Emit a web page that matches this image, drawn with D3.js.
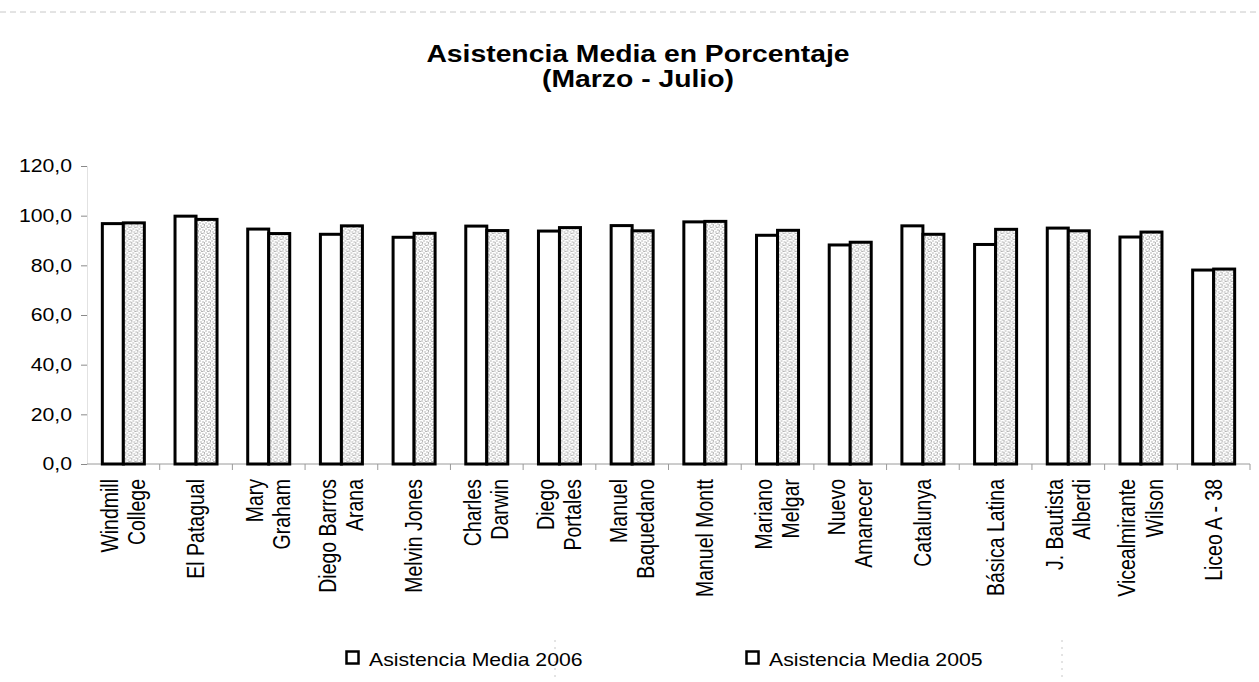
<!DOCTYPE html>
<html>
<head>
<meta charset="utf-8">
<script src="https://cdn.jsdelivr.net/npm/d3@7"></script>
<style>
  html, body { margin: 0; padding: 0; background: #ffffff; }
  svg { display: block; font-family: "Liberation Sans", Arial, sans-serif; }
</style>
</head>
<body>
<svg id="chart" width="1259" height="682"></svg>
<script>
// ---- data ----
const categories = [
  "Windmill\nCollege", "El Patagual", "Mary\nGraham", "Diego Barros\nArana",
  "Melvin Jones", "Charles\nDarwin", "Diego\nPortales", "Manuel\nBaquedano",
  "Manuel Montt", "Mariano\nMelgar", "Nuevo\nAmanecer", "Catalunya",
  "Básica Latina", "J. Bautista\nAlberdi", "Vicealmirante\nWilson", "Liceo A - 38"
];
const values2006 = [96.8, 99.8, 94.6, 92.5, 91.3, 95.8, 93.8, 96.0, 97.5, 92.1, 88.2, 95.9, 88.4, 95.0, 91.4, 78.1];
const values2005 = [97.1, 98.5, 92.8, 95.9, 92.9, 94.0, 95.2, 93.9, 97.7, 94.1, 89.3, 92.5, 94.5, 93.9, 93.4, 78.5];
const seriesNames = ["Asistencia Media 2006", "Asistencia Media 2005"];
const yTickValues = [0, 20, 40, 60, 80, 100, 120];
const titleLines = ["Asistencia Media en Porcentaje", "(Marzo - Julio)"];

(function () {
// ---- layout ----
const SX = 1.18;                 // horizontal text stretch seen in the scan
const svg = d3.select("#chart");
const plotLeft = 87, plotRight = 1250, plotTop = 166, plotBottom = 464;

const x = d3.scaleBand().domain(categories).range([plotLeft, plotRight])
  .paddingInner(0.422).paddingOuter(0.211);
const x1 = d3.scaleBand().domain(seriesNames).range([0, x.bandwidth()]);
const y = d3.scaleLinear().domain([0, 120]).range([plotBottom, plotTop]);
const locale = d3.formatLocale({decimal: ",", thousands: ".", grouping: [3], currency: ["", ""]});
const fmt = locale.format(".1f");

// texture for the 2005 series
const defs = svg.append("defs");
const pat = defs.append("pattern").attr("id", "speckle")
  .attr("patternUnits", "userSpaceOnUse").attr("width", 6).attr("height", 6);
pat.append("rect").attr("width", 6).attr("height", 6).attr("fill", "#ffffff");
const dots = [[0.5,0.5],[3.5,1.5],[1.5,3.5],[4.5,4.5],[2.5,5.0],[5.0,2.5]];
pat.selectAll("rect.d").data(dots).join("rect").attr("class", "d")
  .attr("x", d => d[0]).attr("y", d => d[1]).attr("width", 1).attr("height", 1)
  .attr("fill", "#6a6a6a");

// faint scan frame remnants
svg.append("line").attr("x1", 0).attr("x2", 1259).attr("y1", 12).attr("y2", 12)
  .attr("stroke", "#c8c8c8").attr("stroke-width", 1).attr("stroke-dasharray", "6,4");
[555, 1062].forEach(px => {
  svg.append("line").attr("x1", px).attr("x2", px).attr("y1", 640).attr("y2", 682)
    .attr("stroke", "#c8c8c8").attr("stroke-dasharray", "2,5");
});

// ---- title ----
const tg = svg.append("g").attr("transform", `translate(638,0) scale(${SX},1)`);
tg.selectAll("text").data(titleLines).join("text")
  .attr("x", 0).attr("y", (d, i) => 62 + i * 25)
  .attr("text-anchor", "middle").attr("font-weight", "bold")
  .attr("font-size", 24).attr("fill", "#000").text(d => d);

// ---- y axis ----
const yAxis = svg.append("g").attr("transform", `translate(${plotLeft},0)`)
  .call(d3.axisLeft(y).tickValues(yTickValues).tickSize(6).tickFormat(""));
yAxis.select(".domain").attr("stroke", "#e2e2e2");
yAxis.selectAll(".tick line").attr("stroke", "#8a8a8a");
const ylab = svg.append("g");
ylab.selectAll("g").data(yTickValues).join("g")
  .attr("transform", d => `translate(72,${y(d)}) scale(${SX},1)`)
  .append("text").attr("text-anchor", "end").attr("dy", "0.36em")
  .attr("font-size", 18).attr("fill", "#000").text(d => fmt(d));

// ---- x axis ----
const xAxis = svg.append("g").attr("transform", `translate(0,${plotBottom})`);
xAxis.append("line").attr("x1", plotLeft).attr("x2", plotRight).attr("y1", 0).attr("y2", 0)
  .attr("stroke", "#9a9a9a").attr("stroke-width", 1);
const step = x.step();
xAxis.selectAll("line.tk").data(categories).join("line").attr("class", "tk")
  .attr("x1", d => x(d) - x.paddingInner() * step / 2 + step)
  .attr("x2", d => x(d) - x.paddingInner() * step / 2 + step)
  .attr("y1", 0).attr("y2", 6).attr("stroke", "#9a9a9a");

// ---- bars ----
const rows = categories.map((c, i) => ({cat: c, vals: [values2006[i], values2005[i]]}));
const groups = svg.append("g").selectAll("g").data(rows).join("g")
  .attr("transform", d => `translate(${x(d.cat)},0)`);
groups.selectAll("rect").data(d => d.vals.map((v, k) => ({k, v})))
  .join("rect")
  .attr("x", d => x1(seriesNames[d.k]))
  .attr("y", d => y(d.v))
  .attr("width", x1.bandwidth())
  .attr("height", d => y(0) - y(d.v))
  .attr("fill", d => d.k === 0 ? "#ffffff" : "url(#speckle)")
  .attr("stroke", "#000").attr("stroke-width", 3);

// ---- x labels ----
const lh = 23;
const xl = svg.append("g").selectAll("g").data(categories).join("g")
  .attr("transform", d => `translate(${x(d) + x.bandwidth() / 2},479) scale(${SX},1) rotate(-90)`);
xl.append("text").attr("text-anchor", "end").attr("font-size", 19.5).attr("fill", "#000")
  .each(function(d) {
    const lines = d.split("\n");
    const t = d3.select(this);
    lines.forEach((ln, i) => {
      t.append("tspan").attr("x", 0)
        .attr("y", (i - (lines.length - 1) / 2) * lh)
        .attr("dy", "0.35em").text(ln);
    });
  });

// ---- legend ----
const legendX = [345, 745];
const lg = svg.append("g").selectAll("g").data(seriesNames).join("g")
  .attr("transform", (d, i) => `translate(${legendX[i]},650)`);
lg.append("rect").attr("x", 1.5).attr("y", 1.5).attr("width", 12).attr("height", 12)
  .attr("fill", "#ffffff").attr("stroke", "#000").attr("stroke-width", 2.5);
lg.append("g").attr("transform", `translate(24,16) scale(${SX},1)`)
  .append("text").attr("font-size", 18).attr("fill", "#000").text(d => d);
})();
</script>
</body>
</html>
